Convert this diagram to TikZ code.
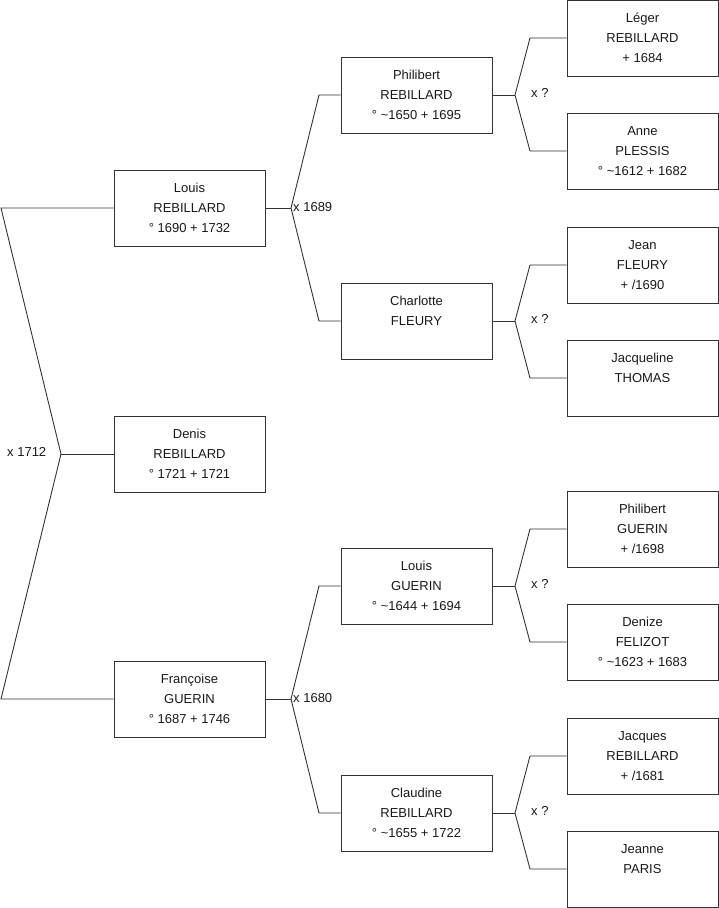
\documentclass[tikz,border=0pt]{standalone}
\usepackage{fontspec}
\setmainfont{Liberation Sans}
\begin{document}
\begin{tikzpicture}[x=1pt,y=-1pt,
  person/.style={draw=black!80,line width=0.9pt,minimum width=151pt,minimum height=76pt,inner sep=0pt,align=center,font=\fontsize{13}{20}\selectfont,text=black!90},
  link/.style={draw=black!80,line width=0.9pt},
  mlabel/.style={anchor=west,inner sep=0pt,font=\fontsize{13}{16}\selectfont,text=black!90}]
\useasboundingbox (0,0) rectangle (719,908);
% column 1
\node[person] (louis) at (189.5,208) {Louis\\REBILLARD\\° 1690 + 1732};
\node[person] (denis) at (189.5,454) {Denis\\REBILLARD\\° 1721 + 1721};
\node[person] (francoise) at (189.5,699) {Françoise\\GUERIN\\° 1687 + 1746};
% column 2
\node[person] (philibert) at (416.5,95) {Philibert\\REBILLARD\\° \textasciitilde1650 + 1695};
\node[person] (charlotte) at (416.5,321) {Charlotte\\FLEURY\\~};
\node[person] (louisg) at (416.5,586) {Louis\\GUERIN\\° \textasciitilde1644 + 1694};
\node[person] (claudine) at (416.5,813) {Claudine\\REBILLARD\\° \textasciitilde1655 + 1722};
% column 3
\node[person] (leger) at (642.5,38) {Léger\\REBILLARD\\+ 1684};
\node[person] (anne) at (642.5,151) {Anne\\PLESSIS\\° \textasciitilde1612 + 1682};
\node[person] (jean) at (642.5,265) {Jean\\FLEURY\\+ /1690};
\node[person] (jacqueline) at (642.5,378) {Jacqueline\\THOMAS\\~};
\node[person] (philibertg) at (642.5,529) {Philibert\\GUERIN\\+ /1698};
\node[person] (denize) at (642.5,642) {Denize\\FELIZOT\\° \textasciitilde1623 + 1683};
\node[person] (jacques) at (642.5,756) {Jacques\\REBILLARD\\+ /1681};
\node[person] (jeanne) at (642.5,869) {Jeanne\\PARIS\\~};
% root connector
\coordinate (a1) at (1,208);
\coordinate (am) at (61,454);
\coordinate (a2) at (1,699);
\draw[link] (louis.west) -- (a1) -- (am) -- (a2) -- (francoise.west);
\draw[link] (am) -- (denis.west);
\node[mlabel] (l1712) at (7,452) {x 1712};
% Louis -> parents
\coordinate (b1) at (291,208);
\coordinate (b1u) at (319,95);
\coordinate (b1d) at (319,321);
\draw[link] (louis.east) -- (b1);
\draw[link] (philibert.west) -- (b1u) -- (b1) -- (b1d) -- (charlotte.west);
\node[mlabel] (l1689) at (293,207) {x 1689};
% Francoise -> parents
\coordinate (b2) at (291,699);
\coordinate (b2u) at (319,586);
\coordinate (b2d) at (319,813);
\draw[link] (francoise.east) -- (b2);
\draw[link] (louisg.west) -- (b2u) -- (b2) -- (b2d) -- (claudine.west);
\node[mlabel] (l1680) at (293,698) {x 1680};
% Philibert -> parents
\coordinate (c1) at (515,95);
\coordinate (c1u) at (530,38);
\coordinate (c1d) at (530,151);
\draw[link] (philibert.east) -- (c1);
\draw[link] (leger.west) -- (c1u) -- (c1) -- (c1d) -- (anne.west);
\node[mlabel] (lq1) at (531,93) {x ?};
% Charlotte -> parents
\coordinate (c2) at (515,321);
\coordinate (c2u) at (530,265);
\coordinate (c2d) at (530,378);
\draw[link] (charlotte.east) -- (c2);
\draw[link] (jean.west) -- (c2u) -- (c2) -- (c2d) -- (jacqueline.west);
\node[mlabel] (lq2) at (531,319) {x ?};
% Louis Guerin -> parents
\coordinate (c3) at (515,586);
\coordinate (c3u) at (530,529);
\coordinate (c3d) at (530,642);
\draw[link] (louisg.east) -- (c3);
\draw[link] (philibertg.west) -- (c3u) -- (c3) -- (c3d) -- (denize.west);
\node[mlabel] (lq3) at (531,584) {x ?};
% Claudine -> parents
\coordinate (c4) at (515,813);
\coordinate (c4u) at (530,756);
\coordinate (c4d) at (530,869);
\draw[link] (claudine.east) -- (c4);
\draw[link] (jacques.west) -- (c4u) -- (c4) -- (c4d) -- (jeanne.west);
\node[mlabel] (lq4) at (531,811) {x ?};
\end{tikzpicture}
\end{document}
